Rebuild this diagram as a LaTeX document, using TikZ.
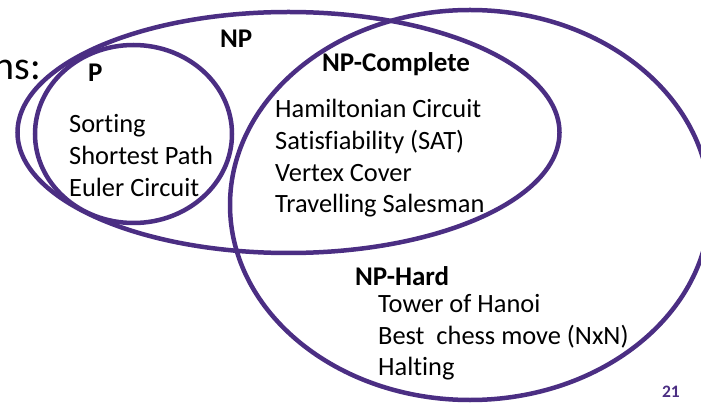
\documentclass[tikz,border=0pt]{standalone}
\usepackage{fontspec}
\setmainfont{Carlito}[Ligatures={NoCommon,NoContextual}]
\usepackage{tikz}
\usetikzlibrary{positioning, shapes.geometric}
\definecolor{uwpurple}{HTML}{4B2E83}

\begin{document}
\begin{tikzpicture}[
  x=1pt, y=-1pt,
  classset/.style={ellipse,draw=uwpurple,line width=4.5pt,inner sep=0pt,outer sep=0pt},
  classname/.style={font=\bfseries\fontsize{27}{32}\selectfont,inner sep=0pt,anchor=base west},
  member/.style={font=\fontsize{26.4}{32}\selectfont,inner sep=0pt,anchor=base west},
  pagenum/.style={font=\bfseries\fontsize{17.5}{20}\selectfont,text=uwpurple,inner sep=0pt}
]

% ----- Cadre -------------------------------------------------------------
\useasboundingbox (0,0) rectangle (701,403);
\clip (0,0) rectangle (701,403);

% ----- Ensembles -----------------------------------------------------------
\node[classset,minimum width=542pt,minimum height=241pt] (np)  at (288.5,132.5) {};
\node[classset,minimum width=197pt,minimum height=178pt] (p)   at (133.5,134)   {};
\node[classset,minimum width=480pt,minimum height=390pt] (nph) at (470,205)     {};

% ----- Titre coupé a gauche ------------------------------------------------
\node[font=\fontsize{40}{48}\selectfont,inner sep=0pt,anchor=base east] (heading) at (41,80) {ns:};

% ----- Noms des classes ----------------------------------------------------
\node[classname] (nptitle)  at (220,48)  {NP};
\node[classname] (ptitle)   at (88,82)   {P};
\node[classname] (npctitle) at (322,72)  {NP-Complete};
\node[classname] (nphtitle) at (355,285) {NP-Hard};

% ----- Problemes de P --------------------------------------------------------
\node[member] (sorting)  at (69,133) {Sorting};
\node[member] (shortest) at ([yshift=-32pt]sorting.base west)  {Shortest Path};
\node[member] (euler)    at ([yshift=-32pt]shortest.base west) {Euler Circuit};

% ----- Problemes NP-complets -----------------------------------------------
\node[member] (hamilton) at (275,118) {Hamiltonian Circuit};
\node[member] (sat)      at ([yshift=-32pt]hamilton.base west) {Satisfiability (SAT)};
\node[member] (cover)    at ([yshift=-32pt]sat.base west)      {Vertex Cover};
\node[member] (tsp)      at ([yshift=-31pt]cover.base west)    {Travelling Salesman};

% ----- Problemes NP-difficiles ---------------------------------------------
\node[member] (hanoi)    at (378,312) {Tower of Hanoi};
\node[member] (chess)    at ([yshift=-32pt]hanoi.base west) {Best\ \ chess move (NxN)};
\node[member] (halting)  at ([yshift=-31pt]chess.base west) {Halting};

% ----- Numero de page ------------------------------------------------------
\node[pagenum,anchor=base east] (page) at (680,397) {21};

\end{tikzpicture}
\end{document}
